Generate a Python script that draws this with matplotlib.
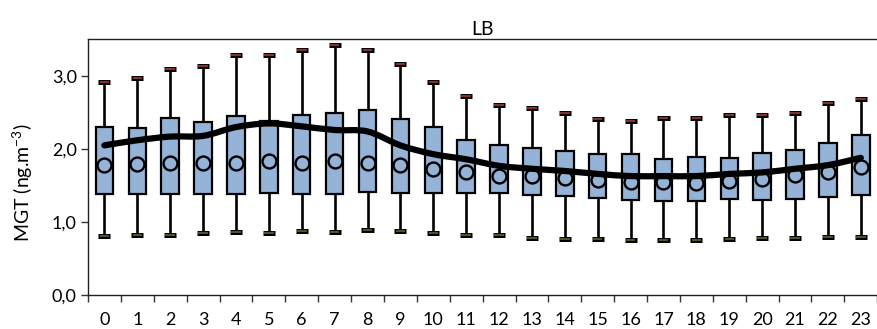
import numpy as np
import matplotlib
matplotlib.use("Agg")
import matplotlib.pyplot as plt
from matplotlib.path import Path
from matplotlib.patches import PathPatch, Rectangle

hours = list(range(24))
whisker_max = [2.92, 2.97, 3.09, 3.13, 3.28, 3.29, 3.36, 3.42, 3.36, 3.16, 2.91, 2.73,
               2.60, 2.56, 2.49, 2.41, 2.38, 2.43, 2.42, 2.46, 2.46, 2.49, 2.63, 2.68]
q3 = [2.30, 2.29, 2.42, 2.37, 2.45, 2.39, 2.46, 2.49, 2.54, 2.41, 2.30, 2.12,
      2.05, 2.01, 1.97, 1.93, 1.93, 1.86, 1.89, 1.88, 1.95, 1.98, 2.08, 2.19]
q1 = [1.38, 1.39, 1.39, 1.39, 1.39, 1.40, 1.38, 1.38, 1.41, 1.40, 1.40, 1.40,
      1.40, 1.37, 1.36, 1.33, 1.30, 1.29, 1.29, 1.31, 1.30, 1.31, 1.35, 1.37]
median = [1.78, 1.79, 1.81, 1.81, 1.81, 1.83, 1.81, 1.84, 1.81, 1.78, 1.73, 1.68,
          1.63, 1.63, 1.61, 1.58, 1.55, 1.55, 1.54, 1.56, 1.59, 1.65, 1.68, 1.75]
whisker_min = [0.81, 0.82, 0.83, 0.85, 0.87, 0.855, 0.874, 0.86, 0.89, 0.875, 0.85, 0.83,
               0.82, 0.79, 0.77, 0.77, 0.76, 0.755, 0.76, 0.775, 0.78, 0.79, 0.80, 0.80]
mean = [2.05, 2.12, 2.17, 2.18, 2.30, 2.35, 2.31, 2.26, 2.24, 2.05, 1.93, 1.86,
        1.77, 1.73, 1.70, 1.66, 1.63, 1.63, 1.63, 1.66, 1.68, 1.73, 1.78, 1.88]

box_color = "#95B3D7"
max_color = "#943634"
min_color = "#4F6228"
font = ["Lato", "DejaVu Sans"]

plt.rcParams["font.family"] = font
plt.rcParams["mathtext.fontset"] = "custom"
plt.rcParams["mathtext.rm"] = "Lato"
plt.rcParams["mathtext.it"] = "Lato:italic"
plt.rcParams["mathtext.bf"] = "Lato:bold"

fig = plt.figure(figsize=(8.77, 3.29), dpi=100)
ax = fig.add_axes([0.1003, 0.1024, 0.9, 0.7781])

box_w = 0.53
cap_w = 0.37
x = np.array(hours, dtype=float)

# whiskers
ax.vlines(x, whisker_min, q1, colors="black", lw=1.9, zorder=2)
ax.vlines(x, q3, whisker_max, colors="black", lw=1.9, zorder=2)

# caps: black outline with coloured core
for xs, ys, c in ((x, whisker_max, max_color), (x, whisker_min, min_color)):
    ax.hlines(ys, xs - cap_w / 2, xs + cap_w / 2, colors="black", lw=3.6,
              zorder=3, capstyle="butt")
    ax.hlines(ys, xs - cap_w / 2 + 0.04, xs + cap_w / 2 - 0.04, colors=c, lw=1.3,
              zorder=4, capstyle="butt")

# boxes
for xi, lo, hi in zip(x, q1, q3):
    ax.add_patch(Rectangle((xi - box_w / 2, lo), box_w, hi - lo,
                           facecolor=box_color, edgecolor="black", lw=1.6, zorder=5))

# median circles
ax.plot(x, median, linestyle="none", marker="o", markersize=10,
        markerfacecolor="none", markeredgecolor="black", markeredgewidth=1.7, zorder=6)

# smoothed mean line (cubic Bezier segments)
pts = np.column_stack([x, mean])
verts = [tuple(pts[0])]
codes = [Path.MOVETO]
n = len(pts)
for i in range(n - 1):
    p0 = pts[max(i - 1, 0)]
    p1 = pts[i]
    p2 = pts[i + 1]
    p3 = pts[min(i + 2, n - 1)]
    c1 = p1 + (p2 - p0) / 6.0
    c2 = p2 - (p3 - p1) / 6.0
    verts += [tuple(c1), tuple(c2), tuple(p2)]
    codes += [Path.CURVE4] * 3
ax.add_patch(PathPatch(Path(verts, codes), facecolor="none", edgecolor="black",
                       lw=4.5, capstyle="round", joinstyle="round", zorder=7))

ax.set_xlim(-0.5, 23.5)
ax.set_ylim(0, 3.5)
ax.set_yticks([0, 1, 2, 3])
ax.set_yticklabels(["0,0", "1,0", "2,0", "3,0"])
ax.set_xticks(x)
ax.set_xticklabels([str(h) for h in hours])
ax.set_xticks(np.arange(-0.5, 24.0, 1.0), minor=True)
ax.tick_params(axis="x", which="major", length=0, pad=12, labelsize=13)
ax.tick_params(axis="x", which="minor", length=5, width=1.0, direction="out",
               color="#333333")
ax.tick_params(axis="y", length=5, width=1.0, direction="out", color="#333333",
               labelsize=13, pad=3)

for s in ("left", "bottom", "top"):
    ax.spines[s].set_color("#222222")
    ax.spines[s].set_linewidth(1.0)
ax.spines["right"].set_visible(False)

ax.set_title("LB", fontsize=14, pad=3)
fig.text(0.026, 0.445, "MGT (ng.m$^{-3}$)", rotation=90, ha="center", va="center",
         fontsize=14)

fig.savefig("out.png", dpi=100)
